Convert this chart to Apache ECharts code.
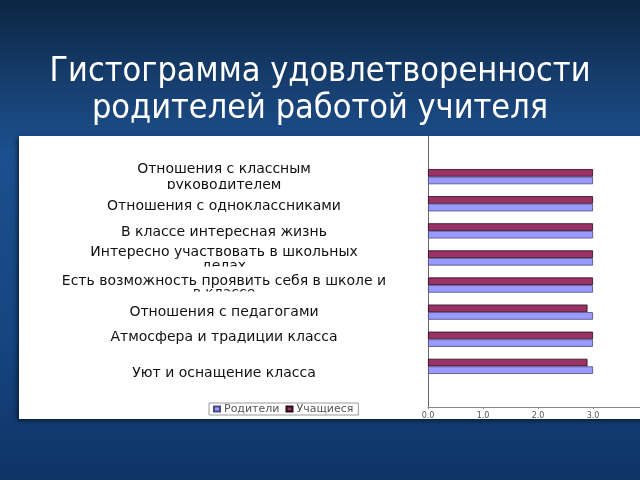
<!DOCTYPE html>
<html>
<head>
<meta charset="utf-8">
<script src="https://cdn.jsdelivr.net/npm/echarts@6/dist/echarts.min.js"></script>
<style>
html,body{margin:0;padding:0;background:#123f75;}
#chart{width:640px;height:480px;}
</style>
</head>
<body>
<div id="chart"></div>
<script>
const titleText = 'Гистограмма удовлетворенности\nродителей работой учителя';
const categories = [
  'Отношения с классным\nруководителем',
  'Отношения с одноклассниками',
  'В классе интересная жизнь',
  'Интересно участвовать в школьных\nделах',
  'Есть возможность проявить себя в школе и\nв классе',
  'Отношения с педагогами',
  'Атмосфера и традиции класса',
  'Уют и оснащение класса'
];
const seriesNames = ['Родители', 'Учащиеся'];
const parentsValues = [3.0, 3.0, 3.0, 3.0, 3.0, 3.0, 3.0, 3.0];
const studentsValues = [3.0, 3.0, 3.0, 3.0, 3.0, 2.9, 3.0, 2.9];
const xTicks = [0, 1, 2, 3, 4];

// layout tweaks (vertical nudge of each category label, px)
const labelNudge = [1.5, 3, 2, 2.5, 5, 0, -2, 7];

const axisCats = [''].concat(categories, [' ']);
const pad = arr => [null].concat(arr, [null]);

const rich = {};
labelNudge.forEach((n, i) => {
  rich['a' + i] = {padding: n > 0 ? [2 * n, 0, 0, 0] : [0, 0, 0, 0]};
  rich['z' + i] = {padding: n < 0 ? [0, 0, -2 * n, 0] : [0, 0, 0, 0]};
  rich['m' + i] = {};
});
Object.keys(rich).forEach(k => Object.assign(rich[k], {
  fontFamily: 'DejaVu Sans', fontSize: 14, lineHeight: 17, color: '#111', align: 'center'
}));
function labelFormatter(value) {
  const i = categories.indexOf(value);
  if (i < 0) return '';
  const lines = value.split('\n');
  if (lines.length === 1) {
    return '{' + (labelNudge[i] >= 0 ? 'a' : 'z') + i + '|' + lines[0] + '}';
  }
  return lines.map((l, k) => '{' + (k === 0 ? 'a' : (k === lines.length - 1 ? 'z' : 'm')) + i + '|' + l + '}').join('\n');
}

// white masks that clip the second line of the wrapped labels (as in the original)
const masks = [
  {x: 130, y: 189, w: 170, h: 8.5},
  {x: 190, y: 266.5, w: 65, h: 10},
  {x: 160, y: 291.5, w: 130, h: 12}
];

const chart = echarts.init(document.getElementById('chart'), null, {renderer: 'canvas'});
chart.setOption({
  backgroundColor: new echarts.graphic.LinearGradient(0, 0, 0, 1, [
    {offset: 0, color: '#0b2542'},
    {offset: 0.18, color: '#173f70'},
    {offset: 0.32, color: '#1c4f8e'},
    {offset: 0.7, color: '#164581'},
    {offset: 1, color: '#0f3466'}
  ]),
  animation: false,
  title: {
    text: titleText,
    left: 'center',
    top: 49,
    textStyle: {
      color: '#ffffff',
      fontFamily: 'DejaVu Sans Condensed',
      fontWeight: 'normal',
      fontSize: 34,
      lineHeight: 37
    }
  },
  graphic: [
    {type: 'rect', z: -10, shape: {x: 19, y: 136, width: 640, height: 283},
     style: {fill: '#ffffff', shadowColor: 'rgba(0,0,0,0.5)', shadowBlur: 4, shadowOffsetX: -2, shadowOffsetY: 2}}
  ].concat(masks.map(m => ({
    type: 'rect', z: 100, silent: true,
    shape: {x: m.x, y: m.y, width: m.w, height: m.h},
    style: {fill: '#ffffff'}
  }))),
  legend: {
    data: seriesNames,
    left: 209,
    top: 403,
    itemWidth: 6,
    itemHeight: 5,
    itemGap: 6,
    padding: [0, 5, 0, 4],
    borderColor: '#999',
    borderWidth: 1,
    icon: 'rect',
    textStyle: {fontFamily: 'DejaVu Sans', fontSize: 11, lineHeight: 12, color: '#555', padding: [0, 0, 0, -1]}
  },
  grid: {left: 428, top: 136, width: 220, height: 271, outerBoundsMode: 'none', containLabel: false},
  xAxis: {
    type: 'value',
    min: xTicks[0],
    max: xTicks[xTicks.length - 1],
    interval: 1,
    axisLine: {show: true, lineStyle: {color: '#888', width: 1}},
    axisTick: {show: true, length: 2, lineStyle: {color: '#888'}},
    splitLine: {show: false},
    axisLabel: {
      formatter: v => v.toFixed(1),
      fontFamily: 'DejaVu Sans',
      fontSize: 8,
      color: '#555',
      margin: 5
    }
  },
  yAxis: {
    type: 'category',
    data: axisCats,
    inverse: true,
    axisLine: {show: true, lineStyle: {color: '#666', width: 1}},
    axisTick: {show: false},
    axisLabel: {
      margin: 204,
      align: 'center',
      fontFamily: 'DejaVu Sans',
      fontSize: 14,
      lineHeight: 17,
      color: '#111',
      formatter: labelFormatter,
      rich: rich
    }
  },
  series: [
    {
      name: seriesNames[1],
      type: 'bar',
      data: pad(studentsValues),
      barGap: '0%',
      barCategoryGap: '44%',
      itemStyle: {color: '#993366', borderColor: '#2a0a18', borderWidth: 0.8}
    },
    {
      name: seriesNames[0],
      type: 'bar',
      data: pad(parentsValues),
      barGap: '0%',
      barCategoryGap: '44%',
      itemStyle: {color: '#9999ff', borderColor: '#4a4a80', borderWidth: 0.8}
    }
  ]
});
</script>
</body>
</html>
